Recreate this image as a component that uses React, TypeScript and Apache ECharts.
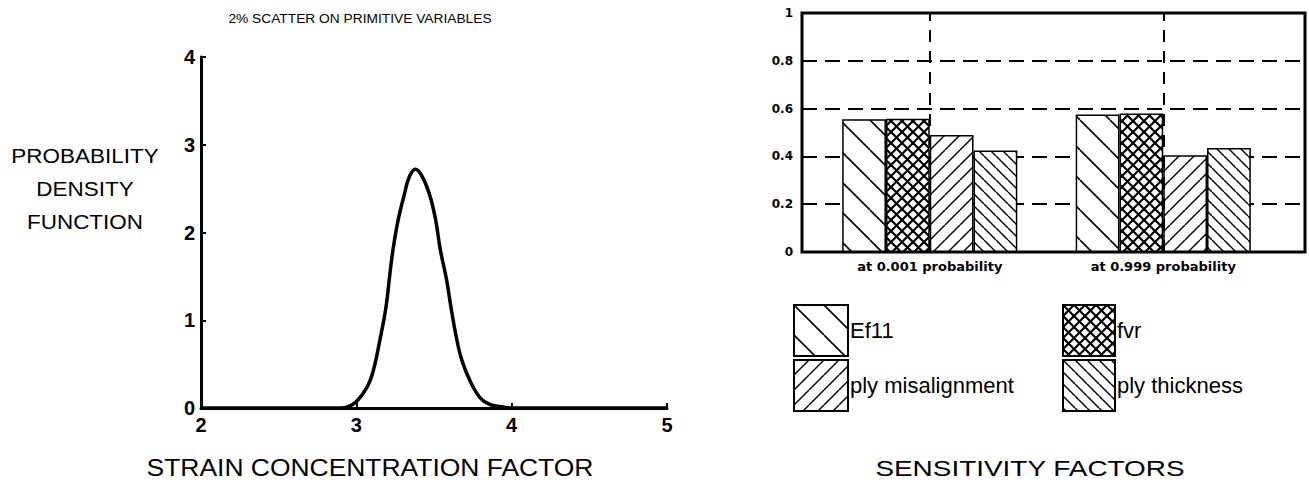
import React, { useEffect, useRef } from 'react';
import * as echarts from 'echarts';

// Left chart: probability density curve
const pdfX = [2.0, 2.5, 2.9, 2.94, 3.0, 3.07, 3.11, 3.15, 3.19, 3.22, 3.24, 3.27, 3.31, 3.34, 3.38, 3.42, 3.47, 3.51, 3.54, 3.58, 3.61, 3.64, 3.68, 3.74, 3.8, 3.86, 3.95, 4.0, 4.5, 5.0];
const pdfY = [0, 0, 0, 0.01, 0.07, 0.24, 0.43, 0.76, 1.14, 1.59, 1.85, 2.15, 2.44, 2.63, 2.72, 2.65, 2.44, 2.15, 1.81, 1.47, 1.14, 0.84, 0.54, 0.28, 0.11, 0.04, 0.01, 0, 0, 0];

// Right chart: sensitivity factors
const categories = ['at 0.001 probability', 'at 0.999 probability'];
const ef11 = [0.555, 0.575];
const fvr = [0.558, 0.58];
const plyMisalignment = [0.49, 0.405];
const plyThickness = [0.425, 0.435];

const FONT = '"Liberation Sans", Arial, Helvetica, sans-serif';
const WIDE = '"DejaVu Sans", "Liberation Sans", sans-serif';

function makeHatch(s: number, dirs: string[], lw: number) {
  const c = document.createElement('canvas');
  c.width = s;
  c.height = s;
  const ctx = c.getContext('2d')!;
  ctx.fillStyle = '#fff';
  ctx.fillRect(0, 0, s, s);
  ctx.strokeStyle = '#000';
  ctx.lineWidth = lw;
  for (const d of dirs) {
    for (let k = -1; k <= 1; k++) {
      ctx.beginPath();
      if (d === '\\') {
        ctx.moveTo(k * s, 0);
        ctx.lineTo(k * s + s, s);
      } else {
        ctx.moveTo(k * s, s);
        ctx.lineTo(k * s + s, 0);
      }
      ctx.stroke();
    }
  }
  return { image: c.toDataURL(), repeat: 'repeat', imageWidth: s, imageHeight: s } as any;
}

export default function App() {
  const ref = useRef<HTMLDivElement>(null);
  useEffect(() => {
    if (!ref.current) return;
    const chart = echarts.init(ref.current, undefined, { renderer: 'svg' });
    const pEf11 = makeHatch(30, ['\\'], 1.6);
    const pFvr = makeHatch(11, ['\\', '/'], 2.2);
    const pMis = makeHatch(15, ['/'], 1.4);
    const pThick = makeHatch(12, ['\\'], 1.4);

    const barBase = {
      type: 'bar',
      xAxisIndex: 2,
      yAxisIndex: 2,
      barGap: '0%',
      barCategoryGap: '25%',
      z: 3,
    };

    const option: any = {
      animation: false,
      backgroundColor: '#fff',
      textStyle: { fontFamily: FONT },
      grid: [
        { left: 201, top: 57, width: 466, height: 351 },
        { left: 802, top: 13, width: 503, height: 239, show: true, borderColor: '#000', borderWidth: 3, backgroundColor: 'transparent' },
        { left: 813, top: 13, width: 467, height: 239 },
      ],
      xAxis: [
        {
          gridIndex: 0, type: 'value', min: 2, max: 5, interval: 1,
          axisLine: { show: true, lineStyle: { color: '#000', width: 3 } },
          axisTick: { show: true, inside: true, length: 5, lineStyle: { color: '#000', width: 2 } },
          axisLabel: { fontSize: 20, fontWeight: 'bold', color: '#000', margin: 7, fontFamily: FONT },
          splitLine: { show: false },
        },
        { gridIndex: 1, type: 'value', min: 0, max: 1, show: false },
        {
          gridIndex: 2, type: 'category', data: categories,
          axisLine: { show: false }, axisTick: { show: false },
          axisLabel: { fontSize: 13, fontWeight: 'bold', color: '#000', margin: 8, fontFamily: WIDE },
          splitLine: { show: false },
        },
      ],
      yAxis: [
        {
          gridIndex: 0, type: 'value', min: 0, max: 4, interval: 1,
          axisLine: { show: true, lineStyle: { color: '#000', width: 3 } },
          axisTick: { show: true, inside: true, length: 5, lineStyle: { color: '#000', width: 2 } },
          axisLabel: { fontSize: 20, fontWeight: 'bold', color: '#000', margin: 6, fontFamily: FONT },
          splitLine: { show: false },
        },
        {
          gridIndex: 1, type: 'value', min: 0, max: 1, interval: 0.2,
          axisLine: { show: false }, axisTick: { show: false },
          axisLabel: { fontSize: 12, fontWeight: 'bold', color: '#000', margin: 9, fontFamily: WIDE },
          splitLine: { show: true, lineStyle: { color: '#000', width: 2, type: [15, 8] } },
        },
        { gridIndex: 2, type: 'value', min: 0, max: 1, show: false },
      ],
      legend: [
        {
          left: 793, top: 304, orient: 'vertical', padding: 0, itemGap: 2,
          itemWidth: 54, itemHeight: 51, icon: 'rect', selectedMode: false,
          data: ['Ef11', 'ply misalignment'],
          textStyle: { fontSize: 22, color: '#000', fontFamily: FONT, padding: [0, 0, 0, -3] },
        },
        {
          left: 1062, top: 304, orient: 'vertical', padding: 0, itemGap: 2,
          itemWidth: 52, itemHeight: 51, icon: 'rect', selectedMode: false,
          data: ['fvr', 'ply thickness'],
          textStyle: { fontSize: 22, color: '#000', fontFamily: FONT, padding: [0, 0, 0, -3] },
        },
      ],
      graphic: [
        { type: 'text', x: 360, y: 19, scaleX: 1.06, style: { text: '2% SCATTER ON PRIMITIVE VARIABLES', fill: '#000', font: `13px ${FONT}`, textAlign: 'center', textVerticalAlign: 'middle' } },
        { type: 'text', x: 85, y: 189, scaleX: 1.07, style: { text: 'PROBABILITY\nDENSITY\nFUNCTION', fill: '#000', font: `21px ${FONT}`, lineHeight: 33, textAlign: 'center', textVerticalAlign: 'middle' } },
        { type: 'text', x: 370, y: 468, scaleX: 1.15, style: { text: 'STRAIN CONCENTRATION FACTOR', fill: '#000', font: `23px ${FONT}`, textAlign: 'center', textVerticalAlign: 'middle' } },
        { type: 'text', x: 1030, y: 468, scaleX: 1.27, style: { text: 'SENSITIVITY FACTORS', fill: '#000', font: `22px ${FONT}`, textAlign: 'center', textVerticalAlign: 'middle' } },
      ],
      series: [
        {
          type: 'line', xAxisIndex: 0, yAxisIndex: 0,
          data: pdfX.map((x, i) => [x, pdfY[i]]),
          showSymbol: false, smooth: 0.4,
          lineStyle: { color: '#000', width: 3.5 },
        },
        {
          type: 'scatter', xAxisIndex: 2, yAxisIndex: 2, data: [], z: 1,
          markLine: {
            silent: true, symbol: 'none', label: { show: false },
            lineStyle: { color: '#000', width: 2, type: [12, 9] },
            data: [{ xAxis: categories[0] }, { xAxis: categories[1] }],
          },
        },
        { ...barBase, name: 'Ef11', data: ef11, itemStyle: { color: pEf11, borderColor: '#000', borderWidth: 1.5 } },
        { ...barBase, name: 'fvr', data: fvr, itemStyle: { color: pFvr, borderColor: '#000', borderWidth: 1.5 } },
        { ...barBase, name: 'ply misalignment', data: plyMisalignment, itemStyle: { color: pMis, borderColor: '#000', borderWidth: 1.5 } },
        { ...barBase, name: 'ply thickness', data: plyThickness, itemStyle: { color: pThick, borderColor: '#000', borderWidth: 1.5 } },
      ],
    };
    chart.setOption(option);
    return () => chart.dispose();
  }, []);
  return <div ref={ref} style={{ position: 'fixed', left: 0, top: 0, width: 1309, height: 493 }} />;
}
